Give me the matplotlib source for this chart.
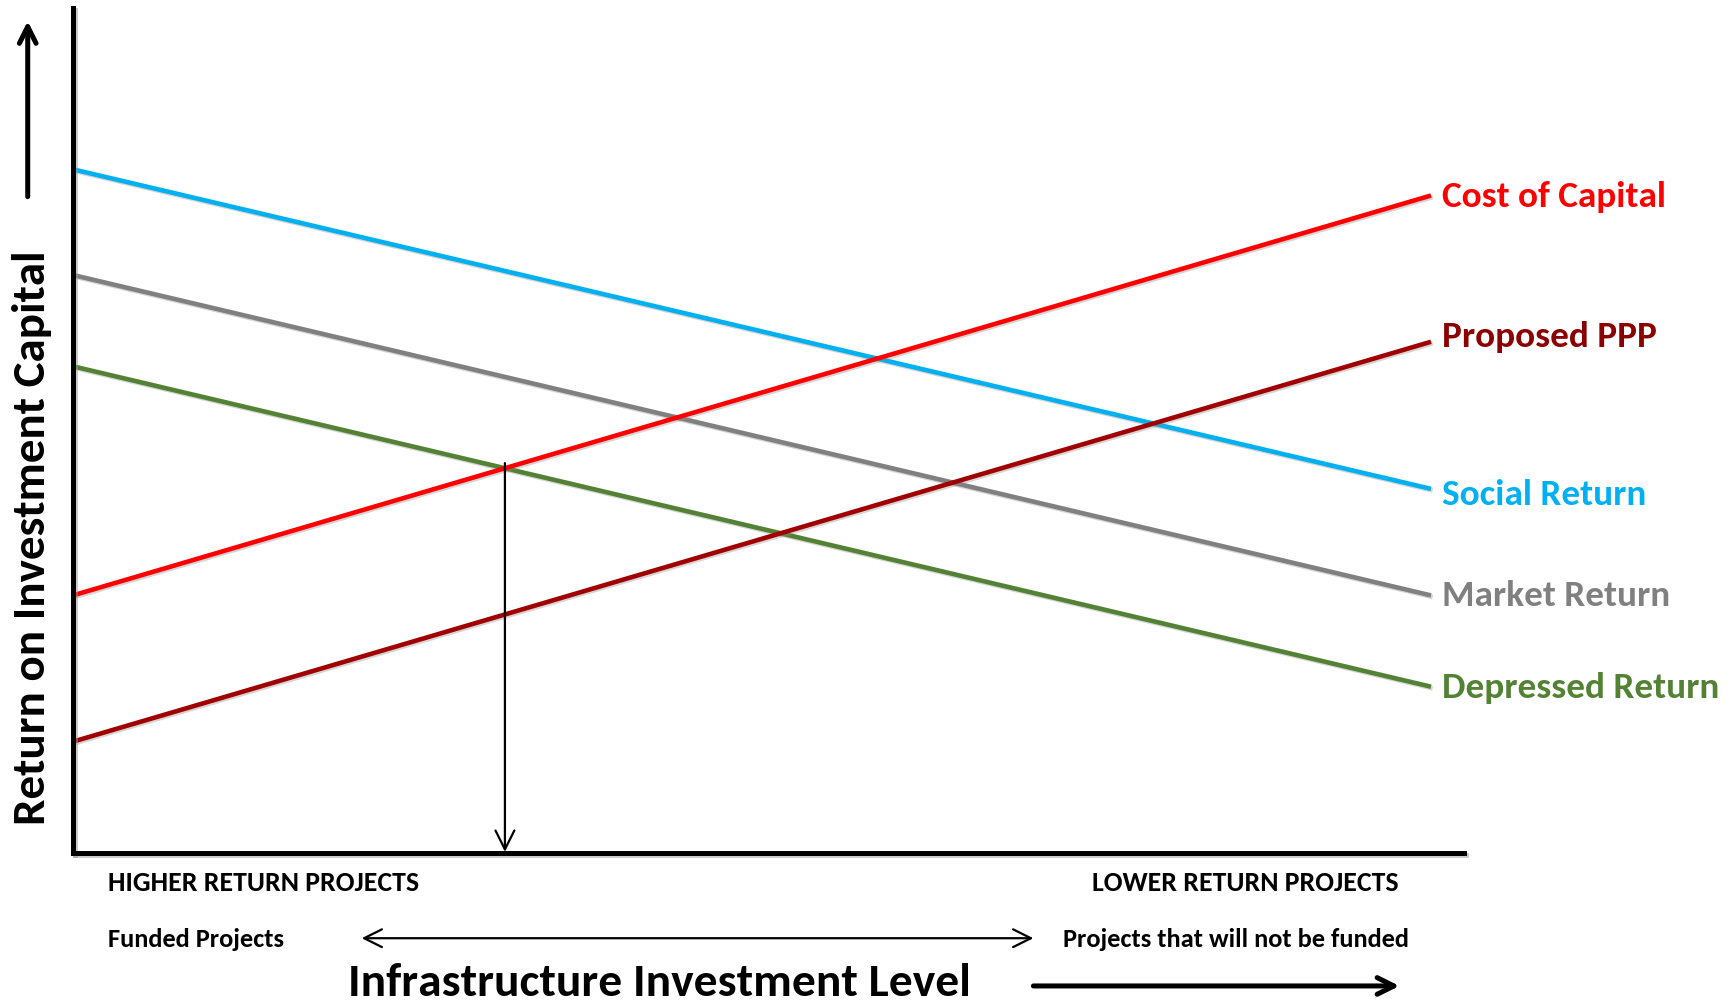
import matplotlib
matplotlib.use("Agg")
import matplotlib.pyplot as plt
import matplotlib.patheffects as pe

plt.rcParams["font.family"] = ["Carlito", "Lato", "DejaVu Sans"]
plt.rcParams["font.weight"] = "bold"

# Conceptual return schedules: value at the lowest and highest investment level
x_range = [0.0, 97.6]
series_names = ["Social Return", "Market Return", "Depressed Return", "Cost of Capital", "Proposed PPP"]
social_return = [80.9, 43.1]
market_return = [68.4, 30.5]
depressed_return = [57.6, 19.7]
cost_of_capital = [30.5, 77.8]
proposed_ppp = [13.2, 60.5]
series_colors = ["#00B0F0", "#808080", "#548235", "#FF0000", "#A00000"]
label_colors = ["#00B0F0", "#808080", "#548235", "#FF0000", "#8B0000"]
label_offsets = [-4, 0, 0, 0, 4]

fig = plt.figure(figsize=(17.33, 10.03), dpi=100)
ax = fig.add_axes([0.0421, 0.1483, 0.8029, 0.8429])
ax.set_xlim(0, 100)
ax.set_ylim(0, 100)
ax.set_xticks([])
ax.set_yticks([])
for side in ["top", "right"]:
    ax.spines[side].set_visible(False)
shadow = [pe.SimpleLineShadow(offset=(1.5, -1.5), shadow_color="#999999", alpha=0.5), pe.Normal()]
for side in ["left", "bottom"]:
    ax.spines[side].set_linewidth(3.6)
    ax.spines[side].set_path_effects(shadow)
    ax.spines[side].set_capstyle("projecting")

all_series = [social_return, market_return, depressed_return, cost_of_capital, proposed_ppp]
for name, vals, col, lcol, dy in zip(series_names, all_series, series_colors, label_colors, label_offsets):
    ax.plot(x_range, vals, color=col, lw=3.3, solid_capstyle="butt", clip_on=False,
            path_effects=[pe.SimpleLineShadow(offset=(1.2, -1.2), shadow_color="#888888", alpha=0.35), pe.Normal()])
    ax.annotate(name, xy=(x_range[1], vals[1]), xytext=(8, dy), textcoords="offset points",
                color=lcol, fontsize=26.8, fontweight="bold", va="center", ha="left", annotation_clip=False)

# Drop line from the point where depressed returns meet the cost of capital
s_dep = (depressed_return[1] - depressed_return[0]) / (x_range[1] - x_range[0])
s_coc = (cost_of_capital[1] - cost_of_capital[0]) / (x_range[1] - x_range[0])
x_cross = (cost_of_capital[0] - depressed_return[0]) / (s_dep - s_coc)
y_cross = depressed_return[0] + s_dep * x_cross
ax.annotate("", xy=(x_cross, 0.0), xytext=(x_cross, y_cross + 0.6),
            arrowprops=dict(arrowstyle="->", lw=1.6, color="black", mutation_scale=34,
                            shrinkA=0, shrinkB=1))

# Axis titles
fig.text(0.0262, 0.4642, "Return on Investment Capital", rotation=90, rotation_mode="anchor",
         fontsize=33.8, fontweight="bold", ha="center", va="baseline")
fig.text(0.3807, 0.0065, "Infrastructure Investment Level", fontsize=34.2,
         fontweight="bold", ha="center", va="baseline")

# Direction arrows
fc = dict(xycoords="figure fraction", textcoords="figure fraction")
ax.annotate("", xy=(0.0160, 0.978), xytext=(0.0160, 0.803), **fc,
            arrowprops=dict(arrowstyle="->", lw=3.6, color="black", mutation_scale=30,
                            shrinkA=0, shrinkB=0))
ax.annotate("", xy=(0.8075, 0.0160), xytext=(0.5963, 0.0160), **fc,
            arrowprops=dict(arrowstyle="->", lw=3.6, color="black", mutation_scale=30,
                            shrinkA=0, shrinkB=0))
ax.annotate("", xy=(0.2087, 0.0636), xytext=(0.5963, 0.0636), **fc,
            arrowprops=dict(arrowstyle="<->", lw=1.6, color="black", mutation_scale=32,
                            shrinkA=0, shrinkB=0))

# Bottom annotations
fig.text(0.0625, 0.120, "HIGHER RETURN PROJECTS", fontsize=20, fontweight="bold", ha="left", va="center")
fig.text(0.6301, 0.120, "LOWER RETURN PROJECTS", fontsize=20, fontweight="bold", ha="left", va="center")
fig.text(0.0625, 0.0636, "Funded Projects", fontsize=19, fontweight="bold", ha="left", va="center")
fig.text(0.6135, 0.0636, "Projects that will not be funded", fontsize=19, fontweight="bold", ha="left", va="center")

fig.savefig("out.png", dpi=100)
